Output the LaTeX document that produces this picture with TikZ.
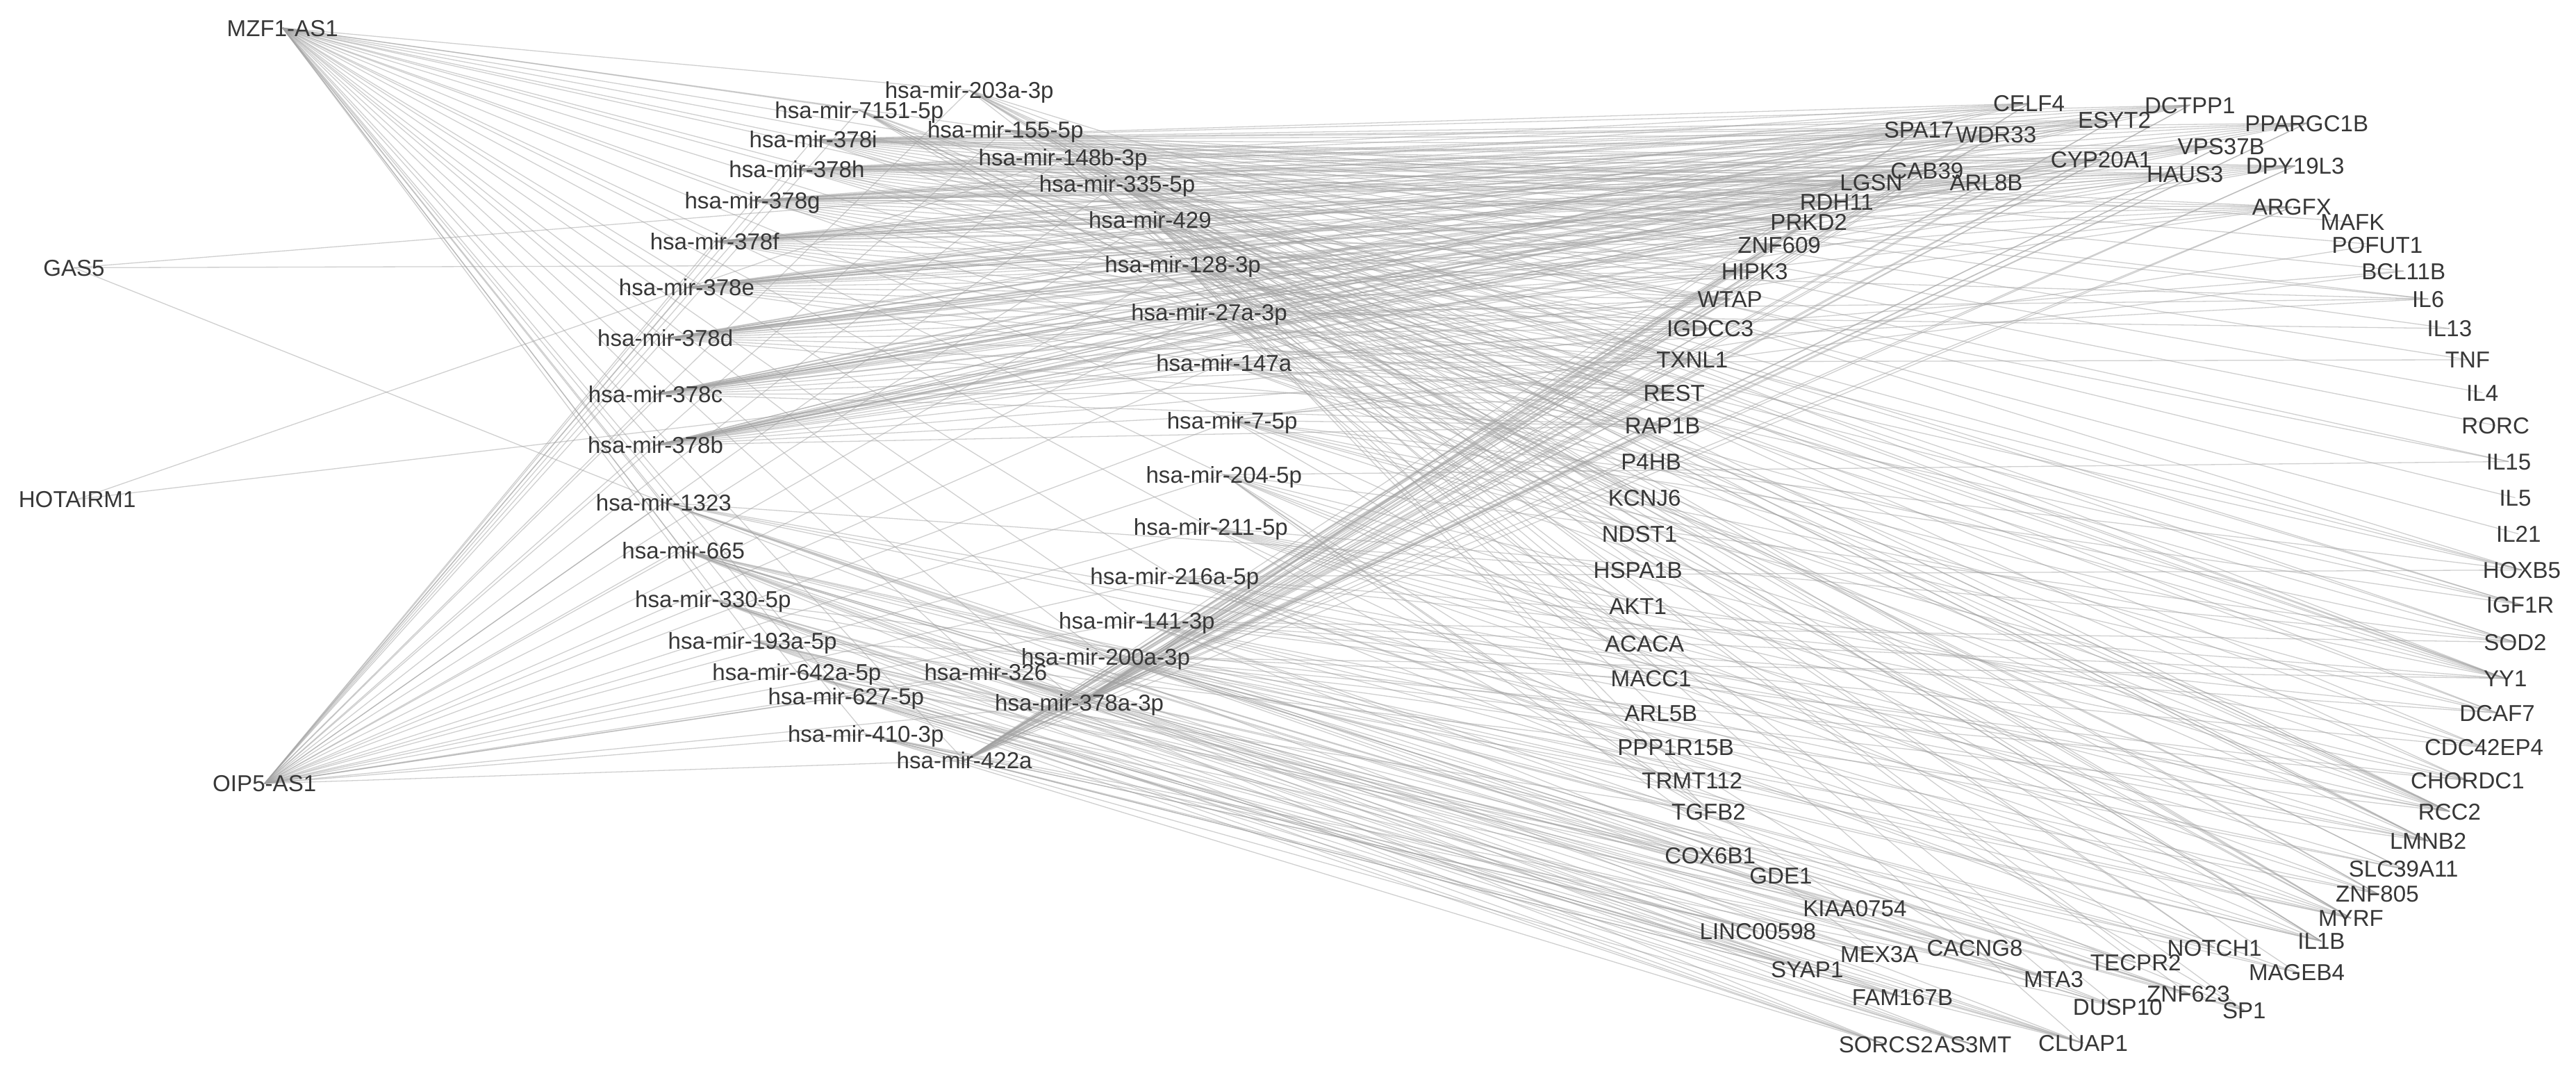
\documentclass[tikz,border=0pt]{standalone}
\usepackage{fontspec}
\setmainfont{Liberation Sans}
\usetikzlibrary{backgrounds}
\definecolor{edgec}{RGB}{160,160,160}
\definecolor{txtc}{RGB}{55,55,55}
\newcommand\edgesfrom[2]{\foreach \g in {#2}{\draw[edge] (#1.center) -- (\g.center);}}
\begin{document}
\begin{tikzpicture}[x=1pt,y=-1pt,
  lbl/.style={text=txtc, inner sep=0pt, text height=10pt, text depth=0pt, font=\fontsize{14}{16}\selectfont},
  edge/.style={draw=edgec, line width=0.55pt, opacity=0.5}]
\useasboundingbox (0,0) rectangle (1568,656);
% lncRNAs
\node[lbl] (MZF) at (172,17) {MZF1-AS1};
\node[lbl] (GAS5) at (45,163) {GAS5};
\node[lbl] (HOT) at (47,304) {HOTAIRM1};
\node[lbl] (OIP) at (161,477) {OIP5-AS1};
% miRNAs
\node[lbl] (m203a) at (590,55) {hsa-mir-203a-3p};
\node[lbl] (m7151) at (523,67) {hsa-mir-7151-5p};
\node[lbl] (m155) at (612,79) {hsa-mir-155-5p};
\node[lbl] (m378i) at (495,85) {hsa-mir-378i};
\node[lbl] (m148b) at (647,96) {hsa-mir-148b-3p};
\node[lbl] (m378h) at (485,103) {hsa-mir-378h};
\node[lbl] (m335) at (680,112) {hsa-mir-335-5p};
\node[lbl] (m378g) at (458,122) {hsa-mir-378g};
\node[lbl] (m429) at (700,134) {hsa-mir-429};
\node[lbl] (m378f) at (435,147) {hsa-mir-378f};
\node[lbl] (m128) at (720,161) {hsa-mir-128-3p};
\node[lbl] (m378e) at (418,175) {hsa-mir-378e};
\node[lbl] (m27a) at (736,190) {hsa-mir-27a-3p};
\node[lbl] (m378d) at (405,206) {hsa-mir-378d};
\node[lbl] (m147a) at (745,221) {hsa-mir-147a};
\node[lbl] (m378c) at (399,240) {hsa-mir-378c};
\node[lbl] (m7) at (750,256) {hsa-mir-7-5p};
\node[lbl] (m378b) at (399,271) {hsa-mir-378b};
\node[lbl] (m204) at (745,289) {hsa-mir-204-5p};
\node[lbl] (m1323) at (404,306) {hsa-mir-1323};
\node[lbl] (m211) at (737,321) {hsa-mir-211-5p};
\node[lbl] (m665) at (416,335) {hsa-mir-665};
\node[lbl] (m216a) at (715,351) {hsa-mir-216a-5p};
\node[lbl] (m330) at (434,365) {hsa-mir-330-5p};
\node[lbl] (m141) at (692,378) {hsa-mir-141-3p};
\node[lbl] (m193a) at (458,390) {hsa-mir-193a-5p};
\node[lbl] (m200a) at (673,400) {hsa-mir-200a-3p};
\node[lbl] (m642a) at (485,409) {hsa-mir-642a-5p};
\node[lbl] (m326) at (600,409) {hsa-mir-326};
\node[lbl] (m627) at (515,424) {hsa-mir-627-5p};
\node[lbl] (m378a) at (657,428) {hsa-mir-378a-3p};
\node[lbl] (m410) at (527,447) {hsa-mir-410-3p};
\node[lbl] (m422a) at (587,463) {hsa-mir-422a};
% genes
\node[lbl] (CELF4) at (1235,63) {CELF4};
\node[lbl] (SPA17) at (1168,79) {SPA17};
\node[lbl] (WDR33) at (1215,82) {WDR33};
\node[lbl] (DCTPP1) at (1333,64) {DCTPP1};
\node[lbl] (ESYT2) at (1287,73) {ESYT2};
\node[lbl] (PPARGC1B) at (1404,75) {PPARGC1B};
\node[lbl] (VPS37B) at (1352,89) {VPS37B};
\node[lbl] (CYP20A1) at (1279,97) {CYP20A1};
\node[lbl] (DPY19L3) at (1397,101) {DPY19L3};
\node[lbl] (HAUS3) at (1330,106) {HAUS3};
\node[lbl] (CAB39) at (1173,104) {CAB39};
\node[lbl] (LGSN) at (1139,111) {LGSN};
\node[lbl] (ARL8B) at (1209,111) {ARL8B};
\node[lbl] (RDH11) at (1118,123) {RDH11};
\node[lbl] (ARGFX) at (1395,126) {ARGFX};
\node[lbl] (MAFK) at (1432,135) {MAFK};
\node[lbl] (PRKD2) at (1101,135) {PRKD2};
\node[lbl] (POFUT1) at (1447,149) {POFUT1};
\node[lbl] (ZNF609) at (1083,149) {ZNF609};
\node[lbl] (BCL11B) at (1463,165) {BCL11B};
\node[lbl] (HIPK3) at (1068,165) {HIPK3};
\node[lbl] (IL6) at (1478,182) {IL6};
\node[lbl] (WTAP) at (1053,182) {WTAP};
\node[lbl] (IGDCC3) at (1041,200) {IGDCC3};
\node[lbl] (IL13) at (1491,200) {IL13};
\node[lbl] (TXNL1) at (1030,219) {TXNL1};
\node[lbl] (TNF) at (1502,219) {TNF};
\node[lbl] (REST) at (1019,239) {REST};
\node[lbl] (IL4) at (1511,239) {IL4};
\node[lbl] (RAP1B) at (1012,259) {RAP1B};
\node[lbl] (RORC) at (1519,259) {RORC};
\node[lbl] (P4HB) at (1005,281) {P4HB};
\node[lbl] (IL15) at (1527,281) {IL15};
\node[lbl] (KCNJ6) at (1001,303) {KCNJ6};
\node[lbl] (IL5) at (1531,303) {IL5};
\node[lbl] (NDST1) at (998,325) {NDST1};
\node[lbl] (IL21) at (1533,325) {IL21};
\node[lbl] (HSPA1B) at (997,347) {HSPA1B};
\node[lbl] (HOXB5) at (1535,347) {HOXB5};
\node[lbl] (AKT1) at (997,369) {AKT1};
\node[lbl] (IGF1R) at (1534,368) {IGF1R};
\node[lbl] (ACACA) at (1001,392) {ACACA};
\node[lbl] (SOD2) at (1531,391) {SOD2};
\node[lbl] (MACC1) at (1005,413) {MACC1};
\node[lbl] (YY1) at (1525,413) {YY1};
\node[lbl] (ARL5B) at (1011,434) {ARL5B};
\node[lbl] (DCAF7) at (1520,434) {DCAF7};
\node[lbl] (PPP1R15B) at (1020,455) {PPP1R15B};
\node[lbl] (CDC42EP4) at (1512,455) {CDC42EP4};
\node[lbl] (TRMT112) at (1030,475) {TRMT112};
\node[lbl] (CHORDC1) at (1502,475) {CHORDC1};
\node[lbl] (TGFB2) at (1040,494) {TGFB2};
\node[lbl] (RCC2) at (1491,494) {RCC2};
\node[lbl] (LMNB2) at (1478,512) {LMNB2};
\node[lbl] (COX6B1) at (1041,521) {COX6B1};
\node[lbl] (SLC39A11) at (1463,529) {SLC39A11};
\node[lbl] (GDE1) at (1084,533) {GDE1};
\node[lbl] (ZNF805) at (1447,544) {ZNF805};
\node[lbl] (KIAA0754) at (1129,553) {KIAA0754};
\node[lbl] (MYRF) at (1431,559) {MYRF};
\node[lbl] (LINC00598) at (1070,567) {LINC00598};
\node[lbl] (IL1B) at (1413,573) {IL1B};
\node[lbl] (NOTCH1) at (1348,577) {NOTCH1};
\node[lbl] (CACNG8) at (1202,577) {CACNG8};
\node[lbl] (MEX3A) at (1144,581) {MEX3A};
\node[lbl] (TECPR2) at (1300,586) {TECPR2};
\node[lbl] (MAGEB4) at (1398,592) {MAGEB4};
\node[lbl] (SYAP1) at (1100,590) {SYAP1};
\node[lbl] (MTA3) at (1250,596) {MTA3};
\node[lbl] (ZNF623) at (1332,605) {ZNF623};
\node[lbl] (FAM167B) at (1158,607) {FAM167B};
\node[lbl] (DUSP10) at (1289,613) {DUSP10};
\node[lbl] (SP1) at (1366,615) {SP1};
\node[lbl] (SORCS2) at (1148,636) {SORCS2};
\node[lbl] (AS3MT) at (1201,636) {AS3MT};
\node[lbl] (CLUAP1) at (1268,635) {CLUAP1};
% edges
\begin{pgfonlayer}{background}
\edgesfrom{MZF}{m203a,m7151,m155,m378i,m148b,m378h,m335,m378g,m429,m378f,m128,m378e,m27a,m378d,m147a,m378c,m7,m378b,m204,m1323,m211,m665,m216a,m330,m141,m193a,m200a,m642a,m326,m627,m378a,m410,m422a}
\edgesfrom{OIP}{m203a,m7151,m155,m378i,m148b,m378h,m335,m378g,m429,m378f,m128,m378e,m27a,m378d,m147a,m378c,m7,m378b,m204,m1323,m211,m665,m216a,m330,m141,m193a,m200a,m642a,m326,m627,m378a,m410,m422a}
\edgesfrom{GAS5}{m335,m128,m1323}
\edgesfrom{HOT}{m148b,m147a}
\foreach \m in {m378i,m378h,m378g,m378f,m378e,m378d,m378c,m378b,m378a,m422a}{
  \edgesfrom{\m}{CELF4,SPA17,WDR33,DCTPP1,ESYT2,PPARGC1B,VPS37B,CYP20A1,DPY19L3,HAUS3,CAB39,LGSN,ARL8B,RDH11,ARGFX,PRKD2,ZNF609,HIPK3,WTAP,IGDCC3,TXNL1,REST,RAP1B}
}
\edgesfrom{m203a}{YY1,RCC2,LMNB2,HOXB5,CHORDC1,MYRF,ZNF805,IL1B,AKT1,KCNJ6}
\edgesfrom{m7151}{YY1,DCAF7,RCC2,SLC39A11,MYRF,KCNJ6,NDST1,HSPA1B}
\edgesfrom{m155}{IL6,IL13,TNF,IL4,RORC,IL15,IL5,IL21,SOD2,IL1B,BCL11B,MAFK,POFUT1,YY1}
\edgesfrom{m148b}{IGF1R,YY1,DCAF7,CDC42EP4,ACACA,MACC1,LMNB2,RCC2,MYRF,IL6}
\edgesfrom{m335}{SP1,IGF1R,SOD2,RCC2,LMNB2,ZNF805,NOTCH1,MAGEB4,HOXB5,IL15}
\edgesfrom{m429}{ZNF623,TECPR2,DUSP10,MTA3,CLUAP1,NOTCH1,MYRF,IL1B,CHORDC1,RCC2,LMNB2,HOXB5,YY1}
\edgesfrom{m128}{YY1,SOD2,HOXB5,IGF1R,CDC42EP4,SLC39A11,ZNF805,TGFB2,TRMT112,ARL5B,IL6}
\edgesfrom{m27a}{YY1,RCC2,LMNB2,MYRF,IL1B,IL6,IGF1R,MACC1,ACACA,KCNJ6,IL13}
\edgesfrom{m147a}{SOD2,YY1,DCAF7,IL6,TNF,CHORDC1,RCC2,P4HB,REST,BCL11B}
\edgesfrom{m7}{IGF1R,SP1,YY1,HOXB5,CDC42EP4,DCAF7,RCC2,AKT1,NDST1,RAP1B,BCL11B,POFUT1}
\edgesfrom{m204}{TGFB2,SOD2,CHORDC1,LMNB2,ZNF805,MYRF,IL1B,MEX3A,CACNG8,KIAA0754,IL15}
\edgesfrom{m1323}{RCC2,LMNB2,SLC39A11,MTA3,DUSP10,ZNF623,CLUAP1,GDE1,COX6B1,HSPA1B}
\edgesfrom{m211}{TGFB2,SOD2,CDC42EP4,CHORDC1,RCC2,LMNB2,MYRF,ZNF805,SLC39A11,PPP1R15B}
\edgesfrom{m665}{AS3MT,SORCS2,FAM167B,SYAP1,MEX3A,CACNG8,LINC00598,KIAA0754,GDE1,COX6B1,TGFB2,TRMT112,MYRF,IL1B}
\edgesfrom{m216a}{YY1,HOXB5,RCC2,LMNB2,MYRF,IL1B,NOTCH1,MAGEB4,SP1,DCAF7}
\edgesfrom{m330}{SORCS2,AS3MT,CLUAP1,MTA3,DUSP10,FAM167B,SYAP1,LINC00598,TRMT112,ARL5B}
\edgesfrom{m141}{ZNF805,SLC39A11,MYRF,IL1B,CHORDC1,DCAF7,CDC42EP4,YY1,SOD2,ZNF623,TECPR2,DUSP10}
\edgesfrom{m193a}{SORCS2,AS3MT,CLUAP1,MEX3A,CACNG8,KIAA0754,GDE1,COX6B1,PPP1R15B,MACC1}
\edgesfrom{m200a}{ZNF623,TECPR2,NOTCH1,MAGEB4,SP1,MYRF,IL1B,ZNF805,RCC2,LMNB2,CHORDC1,YY1}
\edgesfrom{m642a}{SORCS2,AS3MT,CLUAP1,FAM167B,SYAP1,LINC00598,COX6B1,GDE1,TGFB2}
\edgesfrom{m326}{MTA3,DUSP10,CLUAP1,TECPR2,ZNF623,SP1,MAGEB4,NOTCH1,MEX3A,CACNG8}
\edgesfrom{m627}{SORCS2,AS3MT,SYAP1,FAM167B,LINC00598,KIAA0754,MTA3,CLUAP1}
\edgesfrom{m410}{SORCS2,AS3MT,CLUAP1,DUSP10,MTA3,CACNG8,MEX3A,SYAP1,FAM167B}
\end{pgfonlayer}
\end{tikzpicture}
\end{document}
